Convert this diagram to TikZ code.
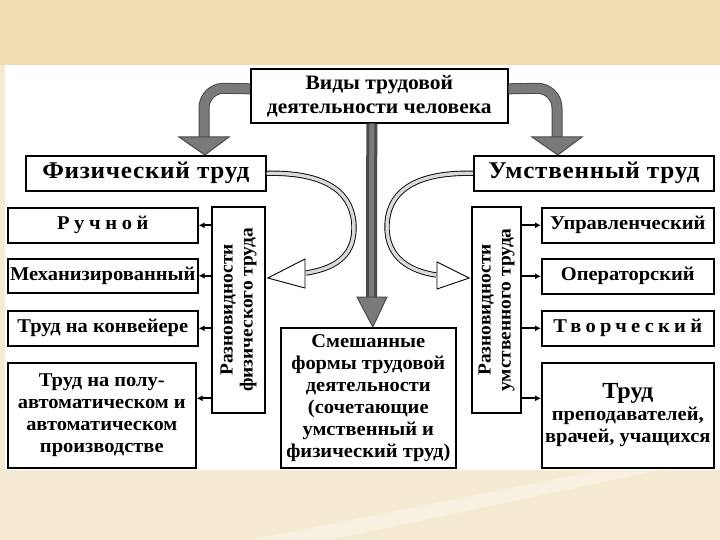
\documentclass[tikz,border=0pt]{standalone}
\usepackage{fontspec}
\setmainfont[FakeStretch=1.05]{Liberation Serif}
\usetikzlibrary{arrows.meta}

\definecolor{slidetop}{HTML}{EEDDB0}
\definecolor{slidebg}{HTML}{F5EAD2}
\definecolor{arrgray}{HTML}{7A7A7A}
\definecolor{arredge}{HTML}{4A4A4A}

\tikzset{
  box/.style={draw, line width=1.6pt, fill=white, align=center, inner sep=1pt,
    anchor=north west, font=\bfseries\fontsize{19.5}{22}\selectfont},
  vbox/.style={box, anchor=center, rotate=90, font=\bfseries\fontsize{18.5}{20}\selectfont},
  smallarr/.style={-{Latex[length=6pt,width=6pt]}, line width=1.8pt},
  bigarr/.style={line width=9pt, arrgray, preaction={draw=arredge, line width=11pt}},
  bighead/.style={draw=arredge, fill=arrgray, line width=1pt},
  hollow/.style={draw=black, line width=0.9pt, double=gray!30, double distance=3.5pt},
  hollowhead/.style={draw=black, fill=white, line width=0.9pt}
}

\begin{document}
\begin{tikzpicture}[x=1pt,y=-1pt]

% slide background
\fill[slidebg] (0,0) rectangle (720,540);
\fill[slidetop] (0,0) rectangle (720,65);
\fill[white] (5,65) rectangle (720,470);
\fill[white,opacity=0.35] (600,470) -- (660,470) -- (330,540) -- (250,540) -- cycle;

%% main boxes
\node[box, minimum width=257pt, minimum height=54pt, font=\bfseries\fontsize{20.5}{24}\selectfont]
  (vidy) at (250,68) {Виды трудовой\\деятельности человека};
\node[box, minimum width=240pt, minimum height=35pt, font=\bfseries\fontsize{24}{24}\selectfont]
  (fiz) at (25,155) {\addfontfeature{LetterSpace=3}Физический труд};
\node[box, minimum width=240pt, minimum height=35pt, font=\bfseries\fontsize{24}{24}\selectfont]
  (umst) at (473,155) {\addfontfeature{LetterSpace=3}Умственный труд};

%% physical labour
\node[box, minimum width=190pt, minimum height=35pt] (ruch) at (7,207)
  {\addfontfeature{LetterSpace=24}Ручной};
\node[box, minimum width=190pt, minimum height=34pt] (mech) at (7,258) {Механизированный};
\node[box, minimum width=190pt, minimum height=35pt] (konv) at (7,310) {Труд на конвейере};
\node[box, minimum width=188pt, minimum height=105pt] (avto) at (7,362)
  {Труд на полу-\\автоматическом и\\автоматическом\\производстве};
\node[vbox, minimum width=206pt, minimum height=53pt] (razfiz) at (238.5,310)
  {Разновидности\\физического труда};

%% mental labour
\node[box, minimum width=172pt, minimum height=35pt] (upr) at (541,207) {Управленческий};
\node[box, minimum width=172pt, minimum height=35pt] (oper) at (541,258) {Операторский};
\node[box, minimum width=172pt, minimum height=35pt] (tvor) at (541,310)
  {\addfontfeature{LetterSpace=22}Творческий};
\node[box, minimum width=172pt, minimum height=105pt] (prep) at (541,362)
  {{\fontsize{23}{26}\selectfont Труд}\\преподавателей,\\врачей, учащихся};
\node[vbox, minimum width=206pt, minimum height=49pt] (razum) at (496.5,310)
  {Разновидности\\умственного труда};

%% mixed forms
\node[box, minimum width=175pt, minimum height=140pt] (mix) at (280,327)
  {Смешанные\\формы трудовой\\деятельности\\(сочетающие\\умственный и\\физический труд)};

% small arrows
\coordinate (avtoin) at ([yshift=17pt]avto.east);
\coordinate (prepin) at ([yshift=17pt]prep.west);
\foreach \b in {ruch,mech,konv,avtoin}
  \draw[smallarr] (razfiz.north |- \b) -- (\b);
\foreach \b in {upr,oper,tvor,prepin}
  \draw[smallarr] (razum.south |- \b) -- (\b);

% big gray arrows
\coordinate (fiztip) at ([xshift=59pt]fiz.north);
\coordinate (umtip) at ([xshift=-36pt]umst.north);
\coordinate (mixtip) at ([xshift=4.5pt]mix.north);
\draw[bigarr, rounded corners=20pt] ([yshift=7pt]vidy.west) -- (204,88) -- (204,139);
\filldraw[bighead] (179,137) -- (229,137) -- (fiztip) -- cycle;
\draw[bigarr, rounded corners=20pt] ([yshift=7pt]vidy.east) -- (557,88) -- (557,139);
\filldraw[bighead] (532,137) -- (582,137) -- (umtip) -- cycle;
\draw[bigarr, line width=5pt, preaction={draw=arredge, line width=7pt}]
  ([xshift=-7.5pt]vidy.south) -- (371.5,299);
\filldraw[bighead] (357,297) -- (387,297) -- (mixtip) -- cycle;

% hollow curved arrows
\coordinate (fizin) at ([yshift=32pt,xshift=2pt]razfiz.south);
\coordinate (umin) at ([yshift=32pt,xshift=-2pt]razum.north);
\draw[hollow] (fiz.east) .. controls (330,172) and (354,195) .. (354,228)
  .. controls (354,258) and (332,269) .. (306,273);
\filldraw[hollowhead] (305,259) -- (305,288) -- (fizin) -- cycle;
\draw[hollow] (umst.west) .. controls (410,172) and (387,195) .. (387,227)
  .. controls (387,258) and (410,271) .. (436,275);
\filldraw[hollowhead] (437,262) -- (437,289) -- (umin) -- cycle;

\end{tikzpicture}
\end{document}
